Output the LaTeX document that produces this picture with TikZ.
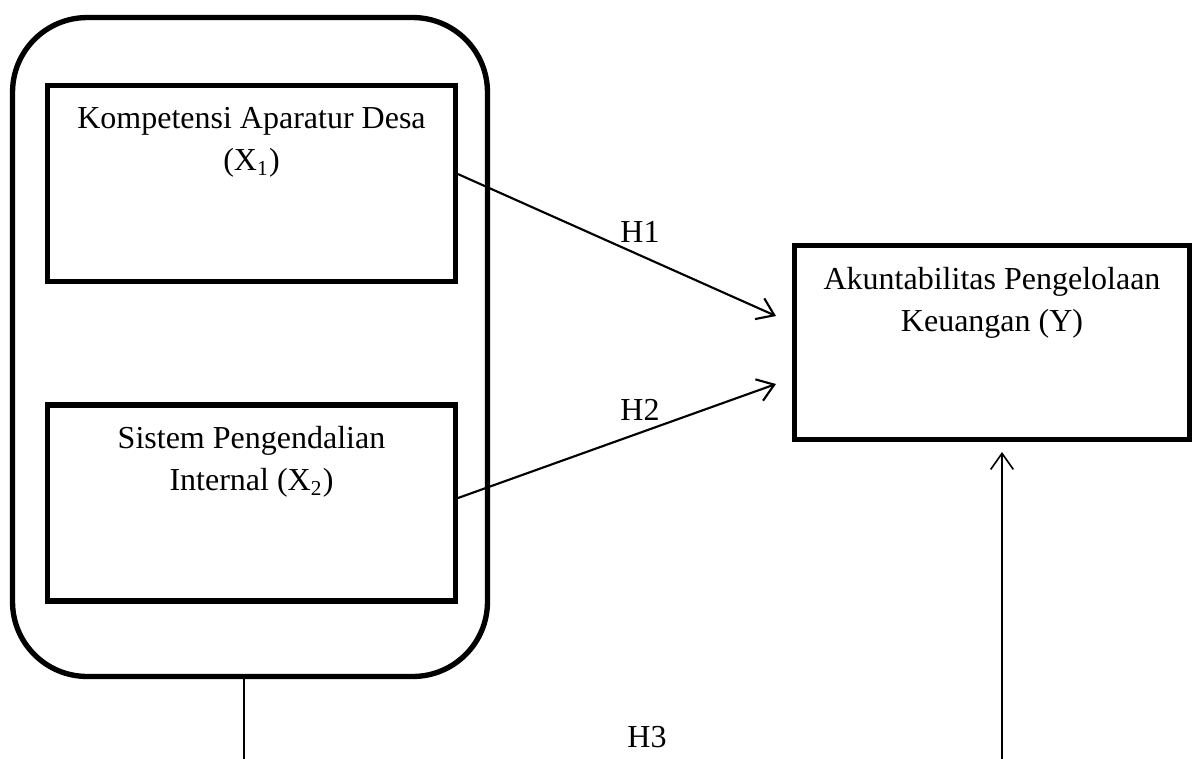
\documentclass[tikz,border=0pt]{standalone}
\usepackage{fontspec}
\setmainfont{Liberation Serif}
\usetikzlibrary{arrows.meta}

\begin{document}
\begin{tikzpicture}[x=0.375pt,y=-0.375pt,>={Straight Barb[length=6pt,width=8.5pt]},font=\fontsize{12}{15.8}\selectfont,line cap=round]
\tikzset{varbox/.style={draw,line width=2pt,minimum width=153pt,minimum height=73.5pt},
  boxtext/.style={anchor=north,yshift=-5.5pt,align=center}}
\useasboundingbox (0,0) rectangle (1192,758);
% kelompok variabel X
\node[draw,line width=2pt,rounded corners=28pt,minimum width=178.1pt,minimum height=247.1pt] (grp) at (250,347) {};
\node[varbox,label={[boxtext]north:Kompetensi Aparatur Desa\\(X\textsubscript{1})}] (x1) at (251.5,183.5) {};
\node[varbox,label={[boxtext]north:Sistem Pengendalian\\Internal (X\textsubscript{2})}] (x2) at (251.5,503) {};
\node[varbox,minimum width=148.1pt,minimum height=72.75pt,label={[boxtext]north:Akuntabilitas Pengelolaan\\Keuangan (Y)}] (y) at (992,342.5) {};
% hipotesis
\coordinate (h1tip) at (776,316);
\coordinate (h2tip) at (776,384);
\coordinate (b1) at (244,760);
\coordinate (b2) at (1002,760);
\coordinate (b2tip) at (1002,452);
\draw[->,line width=0.8pt] ([yshift=3.5pt]x1.east) -- (h1tip);
\draw[->,line width=0.8pt] ([yshift=1.9pt]x2.east) -- (h2tip);
\draw[line width=0.6pt] (grp.south -| b1) -- (b1);
\draw[->,line width=0.6pt] (b2) -- (b2tip);
\node (h1) at (640,232) {H1};
\node (h2) at (640,410) {H2};
\node (h3) at (647,737) {H3};
\end{tikzpicture}
\end{document}
